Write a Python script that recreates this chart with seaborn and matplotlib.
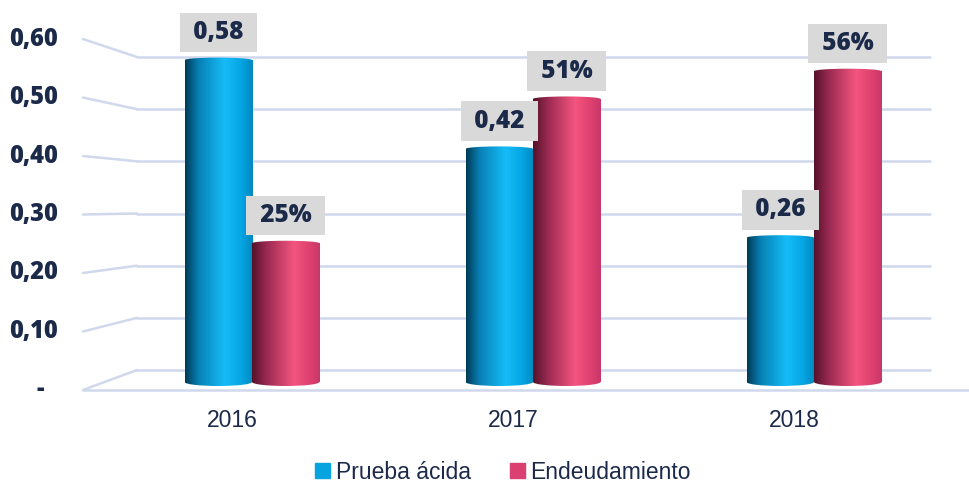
import numpy as np
import pandas as pd
import seaborn as sns
import matplotlib.pyplot as plt
import matplotlib.patches as mpatches
from matplotlib.colors import LinearSegmentedColormap

# Data
years = ['2016', '2017', '2018']
series = ['Prueba ácida', 'Endeudamiento']
prueba_acida = [0.58, 0.42, 0.26]
endeudamiento = [0.25, 0.51, 0.56]
labels_prueba = ['0,58', '0,42', '0,26']
labels_endeud = ['25%', '51%', '56%']
y_ticks = [0.0, 0.1, 0.2, 0.3, 0.4, 0.5, 0.6]
y_tick_labels = ['-', '0,10', '0,20', '0,30', '0,40', '0,50', '0,60']

df = pd.DataFrame({
    'Año': years * 2,
    'Valor': prueba_acida + endeudamiento,
    'Serie': [series[0]] * 3 + [series[1]] * 3,
})

navy = '#1c2a4a'
grid_c = '#d0d8ec'
base_colors = ['#05a3e0', '#d93f6f']
cmaps = [
    LinearSegmentedColormap.from_list('b', [(0, '#003a55'), (0.2, '#0880b5'), (0.58, '#15bcf7'),
                                            (0.82, '#07a6e4'), (1, '#0088bf')]),
    LinearSegmentedColormap.from_list('r', [(0, '#551229'), (0.22, '#9b2a52'), (0.62, '#f3557f'),
                                            (0.85, '#df416f'), (1, '#c8376a')]),
]

# pseudo-3D walls: back plane, front plane
BACK_OFF, BACK_SCALE = 0.0216, 0.94
FRONT_OFF, FRONT_SCALE = -0.0144, 1.054
X_FRONT_L, X_BACK_L, X_BACK_R = -0.6014, -0.4093, 2.4128
XLIM = (-0.8968, 2.5516)
YLIM = (-0.1874, 0.6883)

sns.set_theme(style='white')
plt.rcParams['font.family'] = ['Liberation Sans', 'DejaVu Sans']
bold_font = ['Open Sans', 'DejaVu Sans']

fig = plt.figure(figsize=(9.69, 4.86), dpi=100)
ax = fig.add_axes([0, 0, 1, 1])

sns.barplot(data=df, x='Año', y='Valor', hue='Serie', palette=base_colors, width=0.48,
            saturation=1, linewidth=0, legend=False, errorbar=None, ax=ax, zorder=3)
ax.set_xlim(*XLIM)
ax.set_ylim(*YLIM)
ax.axis('off')

# grid lines (back wall + left side wall)
for v in y_ticks:
    yb = BACK_OFF + BACK_SCALE * v
    yf = FRONT_OFF + FRONT_SCALE * v
    ax.plot([X_BACK_L, X_BACK_R], [yb, yb], color=grid_c, lw=1.8, zorder=1)
    ax.plot([X_FRONT_L, X_BACK_L], [yf, yb], color=grid_c, lw=1.8, zorder=1)
ax.plot([X_FRONT_L, XLIM[1]], [FRONT_OFF, FRONT_OFF], color=grid_c, lw=1.8, zorder=1)

# cylinder shading
grad = np.linspace(0, 1, 256).reshape(1, -1)
cap = 0.009
for i, cont in enumerate(ax.containers):
    labs = labels_prueba if i == 0 else labels_endeud
    for bar, lab in zip(cont.patches, labs):
        x0, w, h = bar.get_x(), bar.get_width(), bar.get_height()
        shapes = [
            mpatches.Rectangle((x0, 0), w, h, transform=ax.transData),
            mpatches.Ellipse((x0 + w / 2, 0), w, cap * 1.6, transform=ax.transData),
            mpatches.Ellipse((x0 + w / 2, h), w, cap, transform=ax.transData),
        ]
        for s in shapes:
            im = ax.imshow(grad, cmap=cmaps[i], aspect='auto', zorder=3.2,
                           extent=[x0, x0 + w, -cap, h + cap], interpolation='bilinear')
            im.set_clip_path(s)
        ax.annotate(' ' + lab + ' ', xy=(x0 + w / 2, h), xytext=(0, 11),
                    textcoords='offset points', ha='center', va='bottom', fontsize=17.5,
                    fontweight='heavy', color=navy, family=bold_font, zorder=5,
                    bbox=dict(boxstyle='square,pad=0.3', fc='#d9d9d9', ec='none'))
ax.set_xlim(*XLIM)
ax.set_ylim(*YLIM)

# y labels on the front plane
for v, t in zip(y_ticks, y_tick_labels):
    yf = FRONT_OFF + FRONT_SCALE * v
    xa, ha = (0.0413, 'center') if t == '-' else (0.0599, 'right')
    ax.text(xa, yf, t, transform=ax.get_yaxis_transform(), ha=ha, va='center',
            fontsize=17, fontweight='heavy', color=navy, family=bold_font)

# year labels (front edge, shifted by perspective)
for i, yr in enumerate(years):
    ax.text(i - 0.07, -0.069, yr, ha='center', va='center', fontsize=16.5, color=navy)

handles = [mpatches.Patch(color=c, label=s) for c, s in zip(base_colors, series)]
fig.legend(handles=handles, loc='center', bbox_to_anchor=(503 / 969, 14 / 486), ncol=2,
           frameon=False, fontsize=16.5, handlelength=0.65, handleheight=0.65,
           handletextpad=0.25, columnspacing=1.7, labelcolor=navy)

plt.savefig('out.png', dpi=100)
